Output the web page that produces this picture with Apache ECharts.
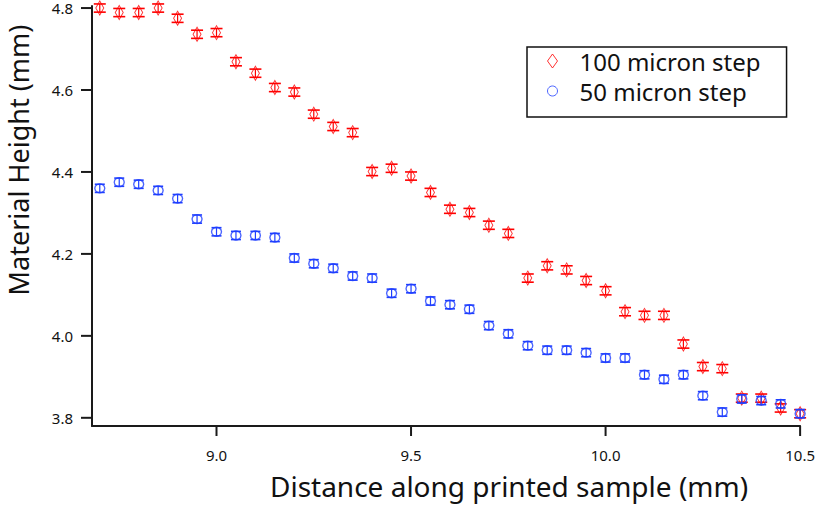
<!DOCTYPE html>
<html>
<head>
<meta charset="utf-8">
<script src="https://cdn.jsdelivr.net/npm/echarts@6/dist/echarts.min.js"></script>
<style>
  html, body { margin: 0; padding: 0; background: #fff; }
  #chart { width: 818px; height: 505px; }
</style>
</head>
<body>
<div id="chart"></div>
<script>
// distance along sample (mm)
const distance = [
  8.70, 8.75, 8.80, 8.85, 8.90, 8.95, 9.00, 9.05, 9.10, 9.15,
  9.20, 9.25, 9.30, 9.35, 9.40, 9.45, 9.50, 9.55, 9.60, 9.65,
  9.70, 9.75, 9.80, 9.85, 9.90, 9.95, 10.00, 10.05, 10.10, 10.15,
  10.20, 10.25, 10.30, 10.35, 10.40, 10.45, 10.50
];

// 100 micron step heights (mm)
const height100 = [
  4.800, 4.789, 4.789, 4.800, 4.775, 4.736, 4.740, 4.669, 4.641, 4.606,
  4.595, 4.541, 4.511, 4.496, 4.401, 4.409, 4.390, 4.350, 4.309, 4.301,
  4.270, 4.250, 4.141, 4.171, 4.161, 4.135, 4.110, 4.059, 4.050, 4.050,
  3.980, 3.925, 3.920, 3.848, 3.848, 3.824, 3.810
];

// 50 micron step heights (mm)
const height50 = [
  4.360, 4.375, 4.370, 4.355, 4.335, 4.285, 4.254, 4.245, 4.245, 4.240,
  4.190, 4.176, 4.165, 4.146, 4.141, 4.104, 4.115, 4.085, 4.076, 4.065,
  4.025, 4.005, 3.976, 3.965, 3.965, 3.959, 3.946, 3.946, 3.905, 3.894,
  3.905, 3.854, 3.814, 3.846, 3.842, 3.834, 3.810
];

const errHalf = 0.01;
const xTicks = [9.0, 9.5, 10.0, 10.5];
const yTicks = [3.8, 4.0, 4.2, 4.4, 4.6, 4.8];

const X_MIN = 8.68, X_MAX = 10.5;
const Y_MIN = 3.78, Y_MAX = 4.805;

const RED = '#ff0000';
const BLUE = '#1f3fff';
const AXIS = '#1a1a1a';

const pairs = (ys) => distance.map((x, i) => [x, ys[i]]);

function errorBars(color, capHalf) {
  return function (params, api) {
    const x = api.value(0);
    const y = api.value(1);
    const hi = api.coord([x, y + errHalf]);
    const lo = api.coord([x, y - errHalf]);
    const st = { stroke: color, lineWidth: 1.6 };
    return {
      type: 'group',
      children: [
        { type: 'line', shape: { x1: hi[0], y1: hi[1], x2: lo[0], y2: lo[1] }, style: { stroke: color, lineWidth: 1.2 } },
        { type: 'line', shape: { x1: hi[0] - capHalf, y1: hi[1], x2: hi[0] + capHalf, y2: hi[1] }, style: st },
        { type: 'line', shape: { x1: lo[0] - capHalf, y1: lo[1], x2: lo[0] + capHalf, y2: lo[1] }, style: st }
      ]
    };
  };
}

const chart = echarts.init(document.getElementById('chart'), null, { renderer: 'svg' });

chart.setOption({
  animation: false,
  backgroundColor: '#fff',
  grid: { left: 92, right: 17, top: 6, bottom: 79 },
  xAxis: {
    type: 'value',
    min: X_MIN,
    max: X_MAX,
    axisLine: { show: true, onZero: false, lineStyle: { color: AXIS, width: 2 } },
    axisTick: { show: false },
    axisLabel: {
      customValues: xTicks,
      formatter: (v) => v.toFixed(1),
      margin: 21,
      fontSize: 15,
      lineHeight: 15,
      fontFamily: 'Noto Sans',
      color: '#111'
    },
    splitLine: { show: false }
  },
  yAxis: {
    type: 'value',
    min: Y_MIN,
    max: Y_MAX,
    axisLine: { show: true, onZero: false, lineStyle: { color: AXIS, width: 2 } },
    axisTick: { show: false },
    axisLabel: {
      customValues: yTicks,
      formatter: (v) => v.toFixed(1),
      margin: 19,
      fontSize: 15,
      lineHeight: 12,
      fontFamily: 'Noto Sans',
      color: '#111'
    },
    splitLine: { show: false }
  },
  legend: {
    orient: 'vertical',
    left: 527,
    top: 47,
    padding: [0, 26, 12, 20],
    itemGap: 2,
    itemWidth: 10,
    itemHeight: 14,
    borderColor: '#111',
    borderWidth: 1.5,
    backgroundColor: '#fff',
    textStyle: { fontSize: 24, fontFamily: 'Noto Sans', color: '#111', padding: [0, 0, 0, 17], lineHeight: 28 },
    data: [
      { name: '100 micron step', icon: 'diamond', itemStyle: { color: 'rgba(0,0,0,0)', borderColor: RED, borderWidth: 1 } },
      { name: '50 micron step', icon: 'circle', itemStyle: { color: 'rgba(0,0,0,0)', borderColor: BLUE, borderWidth: 1 } }
    ]
  },
  series: [
    {
      type: 'custom',
      silent: true,
      renderItem: errorBars(RED, 6),
      data: pairs(height100),
      z: 2
    },
    {
      name: '100 micron step',
      type: 'scatter',
      symbol: 'diamond',
      symbolSize: [8, 14],
      itemStyle: { color: 'rgba(0,0,0,0)', borderColor: RED, borderWidth: 1 },
      data: pairs(height100),
      z: 3
    },
    {
      type: 'custom',
      silent: true,
      renderItem: errorBars(BLUE, 5),
      data: pairs(height50),
      z: 4
    },
    {
      name: '50 micron step',
      type: 'scatter',
      symbol: 'circle',
      symbolSize: [10, 9],
      itemStyle: { color: 'rgba(0,0,0,0)', borderColor: BLUE, borderWidth: 1.3 },
      data: pairs(height50),
      z: 5
    }
  ]
});

// outward tick marks, positioned with the chart's own axis scales
const tickLines = [];
xTicks.forEach((v) => {
  const p = chart.convertToPixel({ gridIndex: 0 }, [v, Y_MIN]);
  tickLines.push({ type: 'line', z: 10, shape: { x1: p[0], y1: p[1], x2: p[0], y2: p[1] + 10 }, style: { stroke: AXIS, lineWidth: 2 } });
});
yTicks.forEach((v) => {
  const p = chart.convertToPixel({ gridIndex: 0 }, [X_MIN, v]);
  tickLines.push({ type: 'line', z: 10, shape: { x1: p[0] - 11, y1: p[1], x2: p[0], y2: p[1] }, style: { stroke: AXIS, lineWidth: 2 } });
});

chart.setOption({
  graphic: [
    {
      type: 'text',
      x: 509,
      y: 486,
      style: {
        text: 'Distance along printed sample (mm)',
        fontSize: 28,
        fontFamily: 'Noto Sans',
        fill: '#111',
        align: 'center',
        verticalAlign: 'middle'
      }
    },
    {
      type: 'text',
      x: 18,
      y: 160,
      rotation: Math.PI / 2,
      style: {
        text: 'Material Height (mm)',
        fontSize: 27,
        fontFamily: 'Noto Sans',
        fill: '#111',
        align: 'center',
        verticalAlign: 'middle'
      }
    }
  ].concat(tickLines)
});
</script>
</body>
</html>
